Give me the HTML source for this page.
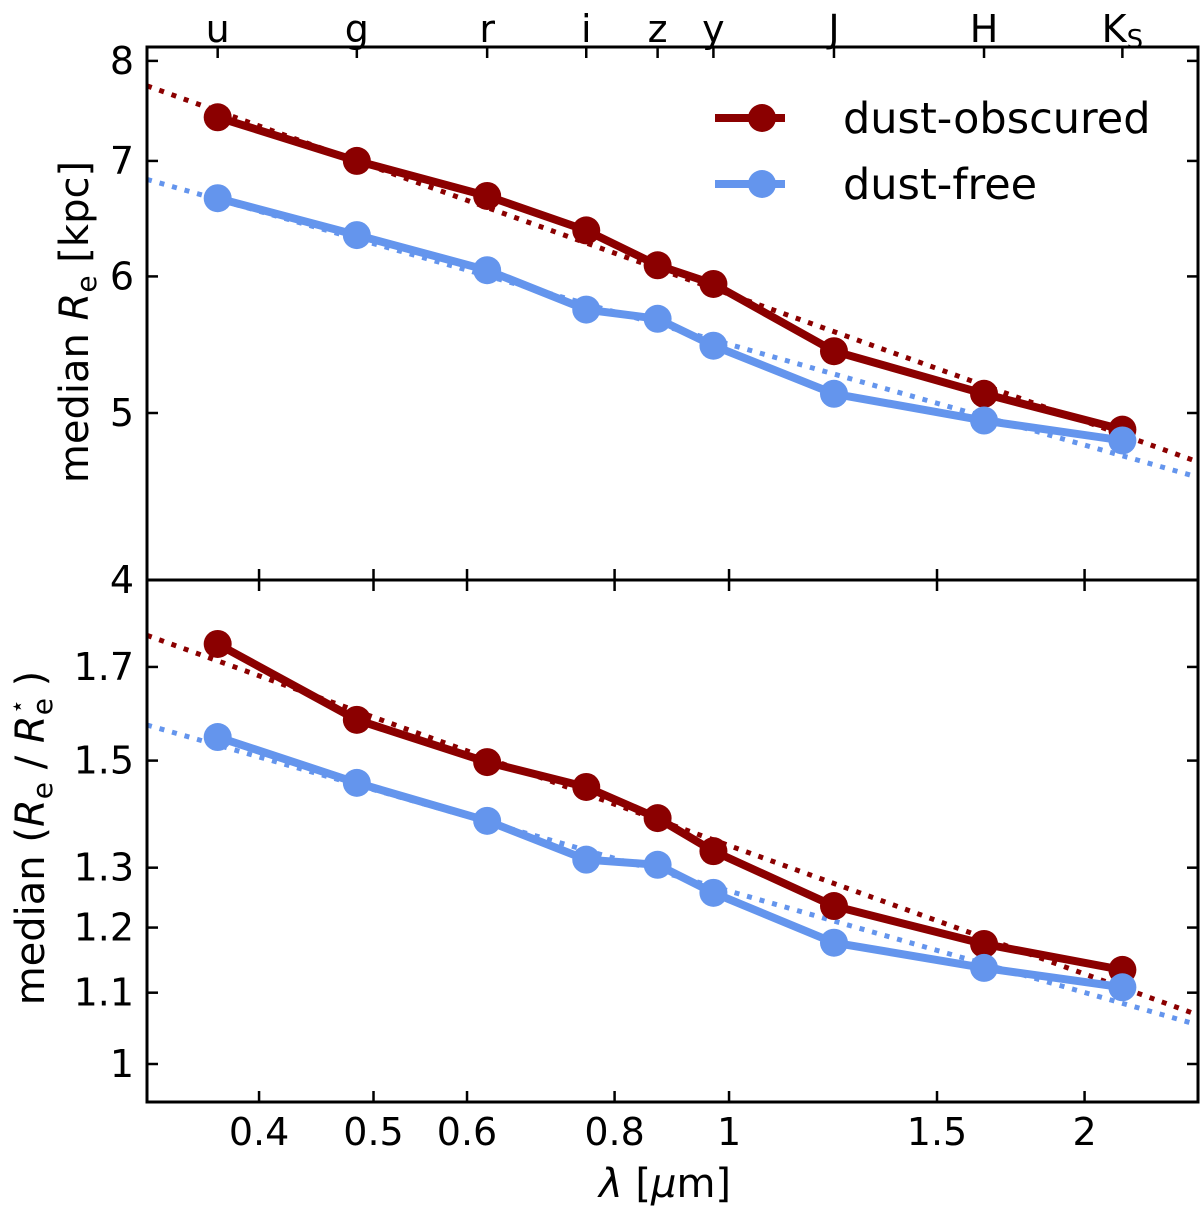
<!DOCTYPE html>
<html><head><meta charset="utf-8"><style>
html,body{margin:0;padding:0;background:#fff;}
svg{display:block;font-family:"DejaVu Sans","Liberation Sans",sans-serif;}
</style></head><body>
<svg id="chart" width="1200" height="1214" viewBox="0 0 1200 1214"></svg>
<script>
const bands = ["u","g","r","i","z","y","J","H","K"];
const wavelengths = [0.369,0.484,0.624,0.757,0.870,0.970,1.227,1.644,2.153];
const reObscured = [7.42,7.00,6.68,6.38,6.09,5.94,5.43,5.13,4.89];
const reFree = [6.66,6.34,6.05,5.74,5.67,5.47,5.13,4.95,4.82];
const ratioObscured = [1.753,1.584,1.497,1.448,1.389,1.329,1.235,1.174,1.134];
const ratioFree = [1.548,1.456,1.384,1.314,1.305,1.257,1.176,1.137,1.108];
const fitTopObscured = [5.86,-0.245];
const fitTopFree = [5.48,-0.194];
const fitBotObscured = [1.339,-0.2476];
const fitBotFree = [1.26,-0.1956];
const xTicks = [0.4,0.5,0.6,0.8,1,1.5,2];
const xTickLabels = ["0.4","0.5","0.6","0.8","1","1.5","2"];
const yTopTicks = [4,5,6,7,8];
const yBotTicks = [1,1.1,1.2,1.3,1.5,1.7];
const yBotTickLabels = ["1","1.1","1.2","1.3","1.5","1.7"];

const NS="http://www.w3.org/2000/svg";
const svg=document.getElementById('chart');
const L=147,R=1198,T1=47,B1=580,T2=580,B2=1102;
const XMIN=0.3215,XMAX=2.495;
const x=v=>L+(Math.log10(v)-Math.log10(XMIN))/(Math.log10(XMAX)-Math.log10(XMIN))*(R-L);
const yTop=v=>413-(Math.log10(v)-Math.log10(5))*1725;
const yBot=v=>1064-Math.log10(v)*1723;
const RED="#8b0000",BLUE="#6495ed";
function mk(tag,attrs,parent){const e=document.createElementNS(NS,tag);for(const k in attrs)e.setAttribute(k,attrs[k]);(parent||svg).appendChild(e);return e;}

const defs=mk('defs',{});
const c1=mk('clipPath',{id:'c1'},defs);mk('rect',{x:L,y:T1,width:R-L,height:B1-T1},c1);
const c2=mk('clipPath',{id:'c2'},defs);mk('rect',{x:L,y:T2,width:R-L,height:B2-T2},c2);

function drawSeries(xs,ys,yf,color,clip,name){
  const g=mk('g',{'clip-path':'url(#'+clip+')'});
  
  
  const pts=xs.map((v,i)=>x(v)+','+yf(ys[i])).join(' ');
  const pl=mk('polyline',{points:pts,fill:'none',stroke:color,'stroke-width':8,'stroke-linejoin':'round'},g);
  
  
  xs.forEach((v,i)=>{
    const c=mk('circle',{cx:x(v),cy:yf(ys[i]),r:14,fill:color},g);
    
    
  });
}
function drawFit(fit,yf,color,clip,name){
  const n=60,pts=[];
  for(let i=0;i<=n;i++){const lv=Math.log10(XMIN)+(Math.log10(XMAX)-Math.log10(XMIN))*i/n;const v=Math.pow(10,lv);pts.push(x(v)+','+yf(fit[0]*Math.pow(v,fit[1])));}
  const p=mk('polyline',{points:pts.join(' '),fill:'none',stroke:color,'stroke-width':5,'stroke-dasharray':'5 8','clip-path':'url(#'+clip+')'});
  
  
}
drawFit(fitTopObscured,yTop,RED,'c1','fit-top-obscured');
drawFit(fitTopFree,yTop,BLUE,'c1','fit-top-free');
drawFit(fitBotObscured,yBot,RED,'c2','fit-bottom-obscured');
drawFit(fitBotFree,yBot,BLUE,'c2','fit-bottom-free');
drawSeries(wavelengths,reObscured,yTop,RED,'c1','top-dust-obscured');
drawSeries(wavelengths,reFree,yTop,BLUE,'c1','top-dust-free');
drawSeries(wavelengths,ratioObscured,yBot,RED,'c2','bottom-dust-obscured');
drawSeries(wavelengths,ratioFree,yBot,BLUE,'c2','bottom-dust-free');

const ax1=mk('rect',{x:L,y:T1,width:R-L,height:B1-T1,fill:'none',stroke:'#000','stroke-width':3});

const ax2=mk('rect',{x:L,y:T2,width:R-L,height:B2-T2,fill:'none',stroke:'#000','stroke-width':3});


function tick(x1,y1,x2,y2){mk('line',{x1,y1,x2,y2,stroke:'#000','stroke-width':2.5});}
function text(s,xx,yy,anchor,size,name){const t=mk('text',{x:xx,y:yy,'text-anchor':anchor,'font-size':size,fill:'#000'});t.textContent=s;return t;}
const TL=11;
xTicks.forEach((v,i)=>{
  const xx=x(v);
  tick(xx,B1,xx,B1-TL);tick(xx,T2,xx,T2+TL);tick(xx,B2,xx,B2-TL);
  text(xTickLabels[i],xx,1145,'middle',38,'x-tick-label');
});
wavelengths.forEach((v,i)=>{
  const xx=x(v);tick(xx,T1,xx,T1+TL);
  const t=text(bands[i],xx,42,'middle',38,'band-label-'+bands[i]);
  if(bands[i]==="K"){const ts=mk('tspan',{'font-size':26,dy:6},t);ts.textContent='S';}
});
yTopTicks.forEach(v=>{const yy=yTop(v);tick(L,yy,L+TL,yy);tick(R,yy,R-TL,yy);text(String(v),134,yy+13,'end',38,'y-top-tick-label');});
yBotTicks.forEach((v,i)=>{const yy=yBot(v);tick(L,yy,L+TL,yy);tick(R,yy,R-TL,yy);text(yBotTickLabels[i],134,yy+13,'end',38,'y-bottom-tick-label');});

const xl=mk('text',{x:665,y:1197,'text-anchor':'middle','font-size':40});

xl.innerHTML='<tspan font-style="italic">λ</tspan> [<tspan font-style="italic">μ</tspan>m]';
const yl1=mk('text',{x:0,y:0,'text-anchor':'middle','font-size':40,transform:'translate(88,322) rotate(-90)'});

yl1.innerHTML='median <tspan font-style="italic">R</tspan><tspan font-size="28" dy="8">e</tspan><tspan dy="-8"> [kpc]</tspan>';
const yl2=mk('text',{x:0,y:0,'text-anchor':'middle','font-size':40,transform:'translate(44,838) rotate(-90)'});

yl2.innerHTML='median (<tspan font-style="italic">R</tspan><tspan font-size="28" dy="8">e</tspan><tspan dy="-8"> / </tspan><tspan font-style="italic">R</tspan><tspan font-size="28" dy="8">e</tspan><tspan font-size="24" dx="-16" dy="-27">⋆</tspan><tspan dy="19"> )</tspan>';

const lg=mk('g',{});
[[RED,'dust-obscured',118],[BLUE,'dust-free',184]].forEach(([c,s,yy])=>{
  const e=mk('g',{},lg);
  mk('line',{x1:715,y1:yy,x2:785,y2:yy,stroke:c,'stroke-width':8},e);
  mk('circle',{cx:762,cy:yy,r:14,fill:c},e);
  const t=mk('text',{x:843,y:yy+15,'font-size':43},e);t.textContent=s;
});
</script>
</body></html>
